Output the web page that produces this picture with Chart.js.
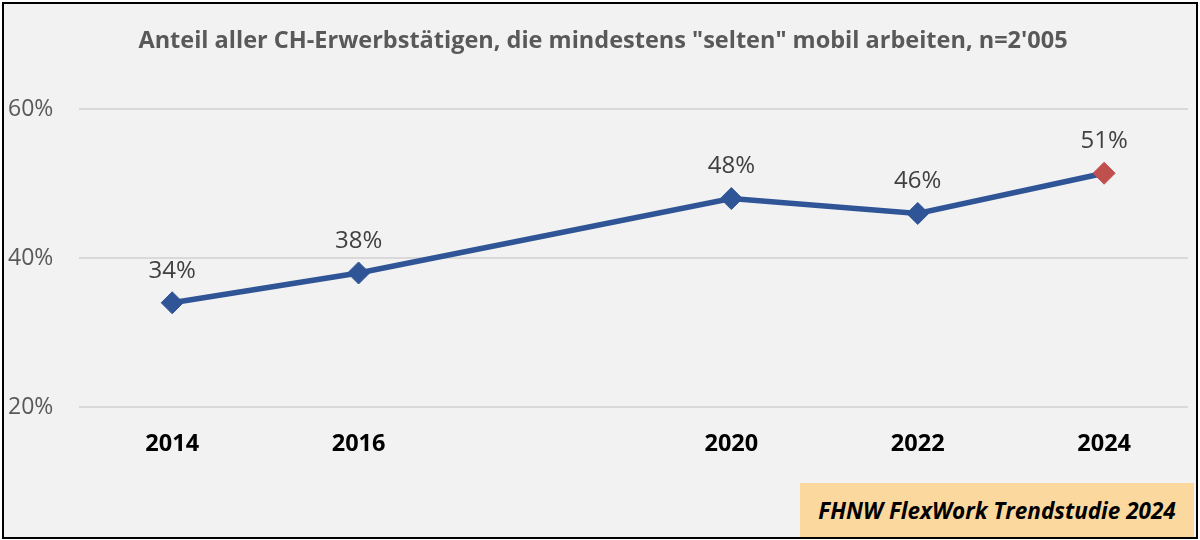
<!DOCTYPE html>
<html>
<head>
<meta charset="utf-8">
<script src="https://cdn.jsdelivr.net/npm/chart.js@4.4.1/dist/chart.umd.min.js"></script>
<style>
    body { margin: 0; background: #fff; }
    #wrap { position: relative; width: 1200px; height: 540px; }
    #marco {
        position: absolute; left: 2px; top: 2px; width: 1196px; height: 537px;
        box-sizing: border-box; border: 2px solid #000; background: #f2f2f2;
    }
    #grafica { position: absolute; left: 0; top: 0; }
    #fuente {
        position: absolute; left: 800px; top: 483px; width: 394px; height: 54px;
        background: #fbd89d; font-family: "Open Sans", sans-serif; font-weight: bold;
        font-style: italic; font-size: 22.5px; color: #000;
        display: flex; align-items: center; justify-content: center;
    }
</style>
</head>
<body>
<div id="wrap">
    <div id="marco"></div>
    <canvas id="grafica" width="1200" height="540"></canvas>
    <div id="fuente">FHNW FlexWork Trendstudie 2024</div>
</div>
<script>
// Datos
const anios = [2014, 2016, 2020, 2022, 2024];
const anteil = [34, 38, 48, 46, 51.4];
const ticksY = [20, 40, 60];

const azul = '#2f5597';
const rojo = '#c0504d';
// el último punto (2024) va en rojo
const coloresPuntos = anios.map((a, i) => i === anios.length - 1 ? rojo : azul);

// Etiquetas de valor encima de cada punto
const etiquetasPlugin = {
    id: 'etiquetas',
    afterDatasetsDraw(chart) {
        const ctx = chart.ctx;
        const meta = chart.getDatasetMeta(0);
        ctx.save();
        ctx.font = '24px "Open Sans", sans-serif';
        ctx.fillStyle = '#404040';
        ctx.textAlign = 'center';
        ctx.textBaseline = 'middle';
        meta.data.forEach((p, i) => {
            ctx.fillText(Math.round(anteil[i]) + '%', p.x, p.y - 32);
        });
        ctx.restore();
    }
};

new Chart(document.getElementById('grafica'), {
    type: 'line',
    data: {
        datasets: [{
            data: anios.map((a, i) => ({ x: a, y: anteil[i] })),
            borderColor: azul,
            borderWidth: 5.5,
            pointStyle: 'rectRot',
            pointRadius: 11,
            pointBackgroundColor: coloresPuntos,
            pointBorderColor: coloresPuntos,
            pointBorderWidth: 1,
            tension: 0
        }]
    },
    options: {
        responsive: false,
        animation: false,
        layout: { padding: { left: 8, right: 2, top: 0, bottom: 0 } },
        scales: {
            x: {
                type: 'linear',
                min: 2013,
                max: 2024.9,
                afterBuildTicks: (scale) => { scale.ticks = anios.map(v => ({ value: v })); },
                afterFit: (scale) => { scale.height = 133; },
                grid: { display: false },
                border: { display: false },
                ticks: {
                    padding: 15,
                    color: '#000',
                    font: { family: '"Open Sans", sans-serif', size: 23.5, weight: 'bold' },
                    callback: (v) => String(v)
                }
            },
            y: {
                min: 20,
                max: 60,
                afterBuildTicks: (scale) => { scale.ticks = ticksY.map(v => ({ value: v })); },
                afterFit: (scale) => { scale.width = 71; },
                grid: { color: '#d9d9d9', lineWidth: 2, drawTicks: false },
                border: { display: false },
                ticks: {
                    crossAlign: 'far',
                    color: '#595959',
                    font: { family: '"Open Sans", sans-serif', size: 23 },
                    callback: (v) => v + '%'
                }
            }
        },
        plugins: {
            legend: { display: false },
            tooltip: { enabled: false },
            title: {
                display: true,
                text: 'Anteil aller CH-Erwerbstätigen, die mindestens "selten" mobil arbeiten, n=2\'005',
                color: '#595959',
                font: { family: '"Open Sans", sans-serif', size: 23.5, weight: 'bold' },
                padding: { top: 27, bottom: 54 }
            }
        }
    },
    plugins: [etiquetasPlugin]
});
</script>
</body>
</html>
